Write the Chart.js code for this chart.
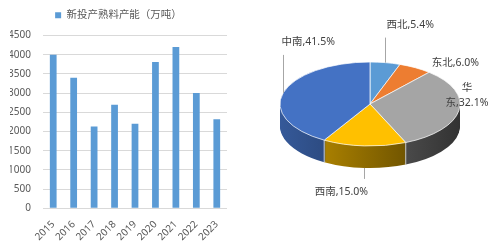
<!DOCTYPE html>
<html>
<head>
<meta charset="utf-8">
<script src="https://cdn.jsdelivr.net/npm/chart.js@4"></script>
<style>
  html, body { margin: 0; padding: 0; background: #fff; }
  #wrap { position: relative; width: 500px; height: 250px; overflow: hidden; }
  #barBox { position: absolute; left: 0; top: 0; width: 240px; height: 250px; }
  #pieBox { position: absolute; left: 250px; top: 0; width: 250px; height: 250px; }
</style>
</head>
<body>
<div id="wrap">
  <div id="barBox"><canvas id="barChart" width="240" height="250"></canvas></div>
  <div id="pieBox"><canvas id="pieChart" width="250" height="250"></canvas></div>
</div>
<script>
// bar chart data
const years = ['2015', '2016', '2017', '2018', '2019', '2020', '2021', '2022', '2023'];
const capacity = [4000, 3400, 2130, 2700, 2200, 3810, 4200, 3000, 2320];
const barLabel = '新投产熟料产能（万吨）';
const yTicks = [0, 500, 1000, 1500, 2000, 2500, 3000, 3500, 4000, 4500];

// pie chart data (clockwise from 12 o'clock)
const regions = ['西北', '东北', '华东', '西南', '中南'];
const shares = [5.4, 6.0, 32.1, 15.0, 41.5];
const regionColors = ['#5B9BD5', '#ED7D31', '#A5A5A5', '#FFC000', '#4472C4'];

const FONT = '"Noto Sans", "Noto Sans CJK SC", sans-serif';
const TXT = '#595959';

// darken a hex colour by factor f
function shade(hex, f) {
    const n = parseInt(hex.slice(1), 16);
    const r = Math.round(((n >> 16) & 255) * f);
    const g = Math.round(((n >> 8) & 255) * f);
    const b = Math.round((n & 255) * f);
    return `rgb(${r},${g},${b})`;
}

// extra room under the legend
const legendGap = {
    id: 'legendGap',
    beforeInit(chart) {
        const fit = chart.legend.fit;
        chart.legend.fit = function () {
            fit.bind(chart.legend)();
            this.height += 5;
        };
    }
};

// 1. Bar chart
new Chart(document.getElementById('barChart'), {
    type: 'bar',
    data: {
        labels: years,
        datasets: [{ label: barLabel, data: capacity, backgroundColor: '#5B9BD5', barPercentage: 0.33, categoryPercentage: 1 }]
    },
    options: {
        responsive: false,
        animation: false,
        layout: { padding: { left: 10, right: 13, top: 2, bottom: 5 } },
        plugins: {
            tooltip: { enabled: false },
            legend: {
                position: 'top',
                labels: { boxWidth: 6, boxHeight: 6, padding: 8, color: TXT, font: { family: FONT, size: 10.5 } }
            }
        },
        scales: {
            x: {
                grid: { display: false },
                border: { display: false },
                ticks: { color: TXT, font: { family: FONT, size: 10 }, autoSkip: false, maxRotation: 45, minRotation: 45, padding: 2 }
            },
            y: {
                min: 0, max: 4500,
                afterBuildTicks: s => { s.ticks = yTicks.map(v => ({ value: v })); },
                afterFit: s => { s.width = 33; },
                grid: { color: '#D9D9D9', drawTicks: false },
                border: { display: false },
                ticks: { color: TXT, font: { family: FONT, size: 10 }, padding: 12, callback: v => String(v) }
            }
        }
    },
    plugins: [legendGap]
});

// 2. 3D pie: squash the library's arcs into an ellipse and stack a darker rim under them
const pie3d = {
    id: 'pie3d',
    beforeDatasetsDraw(chart, args, opts) {
        const ctx = chart.ctx;
        const arcs = chart.getDatasetMeta(0).data;
        const { x: cx, y: cy, outerRadius: r } = arcs[0].getProps(['x', 'y', 'outerRadius'], true);
        const k = opts.flatten;

        const squash = (dy) => {
            ctx.translate(cx, cy + dy);
            ctx.scale(1, k);
            ctx.translate(-cx, -cy);
        };

        // side gradients, lighter on the left
        const sides = arcs.map(el => {
            const base = el.options.backgroundColor;
            const g = ctx.createLinearGradient(cx - r, 0, cx + r, 0);
            g.addColorStop(0, shade(base, 0.78));
            g.addColorStop(1, shade(base, 0.3));
            return g;
        });

        for (let d = opts.depth; d >= 1; d--) {
            ctx.save();
            squash(d);
            arcs.forEach((el, i) => {
                const saved = el.options;
                el.options = Object.assign({}, saved, { backgroundColor: sides[i], borderWidth: 0 });
                el.draw(ctx);
                el.options = saved;
            });
            ctx.restore();
        }

        // light seams on the rim where front slices meet
        ctx.save();
        ctx.strokeStyle = 'rgba(255,255,255,0.7)';
        ctx.lineWidth = 1;
        arcs.forEach(el => {
            const a = el.startAngle;
            if (Math.sin(a) > 0.05) {
                const x = cx + r * Math.cos(a);
                const y = cy + r * k * Math.sin(a);
                ctx.beginPath();
                ctx.moveTo(x, y);
                ctx.lineTo(x, y + opts.depth);
                ctx.stroke();
            }
        });
        ctx.restore();

        // top face
        ctx.save();
        squash(0);
        arcs.forEach(el => el.draw(ctx));
        ctx.restore();
        return false;
    },
    afterDraw(chart, args, opts) {
        const ctx = chart.ctx;
        const arcs = chart.getDatasetMeta(0).data;
        const { x: cx, y: cy, outerRadius: r } = arcs[0].getProps(['x', 'y', 'outerRadius'], true);
        const k = opts.flatten;
        const lineH = 15;
        ctx.save();
        ctx.font = `10.5px ${FONT}`;
        ctx.textAlign = 'center';
        ctx.textBaseline = 'middle';
        arcs.forEach((el, i) => {
            const mid = (el.startAngle + el.endAngle) / 2;
            const ax = cx + r * Math.cos(mid);
            const ay = cy + r * k * Math.sin(mid);
            const place = opts.placement[i];
            const lx = ax + place.dx;
            const ly = ay + place.dy;

            // wrap: every char may break, the value sticks to the last char of the name
            const name = regions[i];
            const tail = name.slice(-1) + ',' + shares[i].toFixed(1) + '%';
            const tokens = [...name.slice(0, -1)].concat(tail);
            let lines = [], cur = '';
            tokens.forEach(t => {
                if (cur && place.maxWidth && ctx.measureText(cur + t).width > place.maxWidth) {
                    lines.push(cur); cur = t;
                } else cur += t;
            });
            lines.push(cur);

            if (place.leader) {
                const edgeY = Math.sin(mid) > 0 ? ay + opts.depth : ay;
                const endY = ly + (ly < edgeY ? 13 : -13);
                ctx.strokeStyle = '#A6A6A6';
                ctx.lineWidth = 1;
                ctx.beginPath();
                ctx.moveTo(Math.round(ax) + 0.5, edgeY);
                ctx.lineTo(Math.round(ax) + 0.5, endY);
                ctx.stroke();
            }

            ctx.fillStyle = '#404040';
            const top = ly - (lines.length - 1) * lineH / 2;
            lines.forEach((s, j) => ctx.fillText(s, lx, top + j * lineH));
        });
        ctx.restore();
    }
};

new Chart(document.getElementById('pieChart'), {
    type: 'pie',
    data: {
        labels: regions,
        datasets: [{ data: shares, backgroundColor: regionColors, borderColor: '#ffffff', borderWidth: 1, radius: 90 }]
    },
    options: {
        responsive: false,
        animation: false,
        layout: { padding: { left: 30, right: 40, top: 14, bottom: 56 } },
        plugins: {
            legend: { display: false },
            tooltip: { enabled: false },
            pie3d: {
                flatten: 42 / 90,
                depth: 22,
                placement: [
                    { dx: 25, dy: -38, leader: true },
                    { dx: 40, dy: -5 },
                    { dx: 8, dy: -15, maxWidth: 45 },
                    { dx: -23, dy: 46, leader: true },
                    { dx: 25, dy: -51, leader: true }
                ]
            }
        }
    },
    plugins: [pie3d]
});
</script>
</body>
</html>
